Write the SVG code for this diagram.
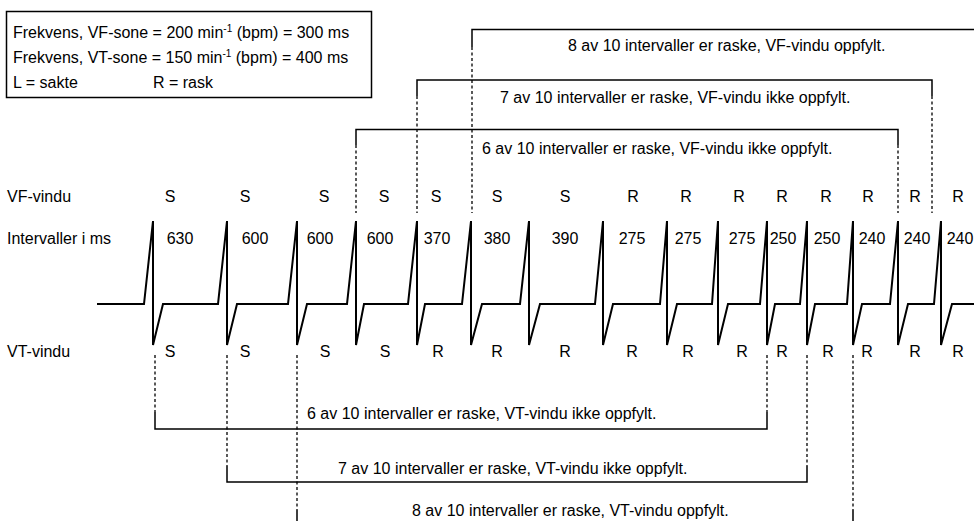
<svg xmlns="http://www.w3.org/2000/svg" width="974" height="521" viewBox="0 0 974 521">
<style>
text{font-family:"Liberation Sans",Arial,sans-serif;font-size:16px;fill:#000}
.m{text-anchor:middle}
.sol{fill:none;stroke:#000;stroke-width:1.5}
.dash{fill:none;stroke:#000;stroke-width:1.3;stroke-dasharray:3 2.5}
.ecg{fill:none;stroke:#000;stroke-width:2}
</style>
<rect width="974" height="521" fill="#fff"/>
<g id="legend">
<rect x="6.5" y="11.5" width="365" height="86" fill="none" stroke="#000" stroke-width="1.5"/>
<text x="13" y="38">Frekvens, VF-sone = 200 min<tspan font-size="10" dy="-6">-1</tspan><tspan dy="6"> (bpm) = 300 ms</tspan></text>
<text x="13" y="63">Frekvens, VT-sone = 150 min<tspan font-size="10" dy="-6">-1</tspan><tspan dy="6"> (bpm) = 400 ms</tspan></text>
<text x="13" y="88">L = sakte</text>
<text x="153" y="88">R = rask</text>
</g>
<g id="row-labels">
<text x="7" y="202">VF-vindu</text>
<text x="7" y="244">Intervaller i ms</text>
<text x="7" y="357">VT-vindu</text>
</g>
<g id="vf-window" class="m">
<text x="170" y="202" class="m">S</text><text x="245" y="202" class="m">S</text><text x="324" y="202" class="m">S</text><text x="384" y="202" class="m">S</text><text x="436" y="202" class="m">S</text><text x="497" y="202" class="m">S</text><text x="565" y="202" class="m">S</text><text x="633" y="202" class="m">R</text><text x="686" y="202" class="m">R</text><text x="739" y="202" class="m">R</text><text x="782" y="202" class="m">R</text><text x="826" y="202" class="m">R</text><text x="868" y="202" class="m">R</text><text x="915" y="202" class="m">R</text><text x="958" y="202" class="m">R</text>
</g>
<g id="intervals">
<text x="180" y="244" class="m">630</text><text x="255" y="244" class="m">600</text><text x="320" y="244" class="m">600</text><text x="380" y="244" class="m">600</text><text x="437" y="244" class="m">370</text><text x="497" y="244" class="m">380</text><text x="565" y="244" class="m">390</text><text x="632" y="244" class="m">275</text><text x="688" y="244" class="m">275</text><text x="742" y="244" class="m">275</text><text x="783" y="244" class="m">250</text><text x="827" y="244" class="m">250</text><text x="872" y="244" class="m">240</text><text x="917" y="244" class="m">240</text><text x="960" y="244" class="m">240</text>
</g>
<g id="vt-window">
<text x="170" y="357" class="m">S</text><text x="245" y="357" class="m">S</text><text x="325" y="357" class="m">S</text><text x="385" y="357" class="m">S</text><text x="438" y="357" class="m">R</text><text x="497" y="357" class="m">R</text><text x="565" y="357" class="m">R</text><text x="632" y="357" class="m">R</text><text x="688" y="357" class="m">R</text><text x="742" y="357" class="m">R</text><text x="782" y="357" class="m">R</text><text x="828" y="357" class="m">R</text><text x="867" y="357" class="m">R</text><text x="915" y="357" class="m">R</text><text x="958" y="357" class="m">R</text>
</g>
<g id="ecg">
<path class="ecg" d="M97,304 L144,304 L153,221 L153,345 L163,304 L218,304 L227,221 L227,345 L237,304 L288,304 L297,221 L297,345 L307,304 L347,304 L356,221 L356,345 L364,304 L408,304 L417,221 L417,345 L425,304 L462,304 L471,221 L471,345 L482,304 L520,304 L529,221 L529,345 L540,304 L595,304 L603,221 L603,345 L613,304 L660,304 L667,221 L667,345 L677,304 L712,304 L718,221 L718,345 L728,304 L760,304 L767,221 L767,345 L775,304 L800,304 L807,221 L807,345 L815,304 L847,304 L853,221 L853,345 L862,304 L890,304 L898,221 L898,345 L908,304 L934,304 L941,221 L941,345 L952,304 L974,304"/>
</g>
<g id="connectors">
<!-- VF brackets -->
<path class="sol" d="M472,47 V29.5 H980"/>
<path class="dash" d="M472,47 V213"/>
<path class="sol" d="M417,96 V80 H932 V96"/>
<path class="dash" d="M417,96 V213 M932,96 V213"/>
<path class="sol" d="M356,145 V129.5 H898 V145"/>
<path class="dash" d="M356,145 V213 M898,145 V213"/>
<!-- VT brackets -->
<path class="dash" d="M155,355 V412 M767,355 V412"/>
<path class="sol" d="M155,412 V429 H767 V412"/>
<path class="dash" d="M227,355 V466 M807,355 V466"/>
<path class="sol" d="M227,466 V482 H807 V466"/>
<path class="dash" d="M297,355 V510 M853,355 V510"/>
<path class="sol" d="M297,510 V530 M853,510 V530"/>
</g>
<g id="bracket-labels">
<text x="568" y="51">8 av 10 intervaller er raske, VF-vindu oppfylt.</text>
<text x="500" y="103">7 av 10 intervaller er raske, VF-vindu ikke oppfylt.</text>
<text x="482" y="154">6 av 10 intervaller er raske, VF-vindu ikke oppfylt.</text>
<text x="307" y="419">6 av 10 intervaller er raske, VT-vindu ikke oppfylt.</text>
<text x="338" y="474">7 av 10 intervaller er raske, VT-vindu ikke oppfylt.</text>
<text x="412" y="516">8 av 10 intervaller er raske, VT-vindu oppfylt.</text>
</g>
</svg>
